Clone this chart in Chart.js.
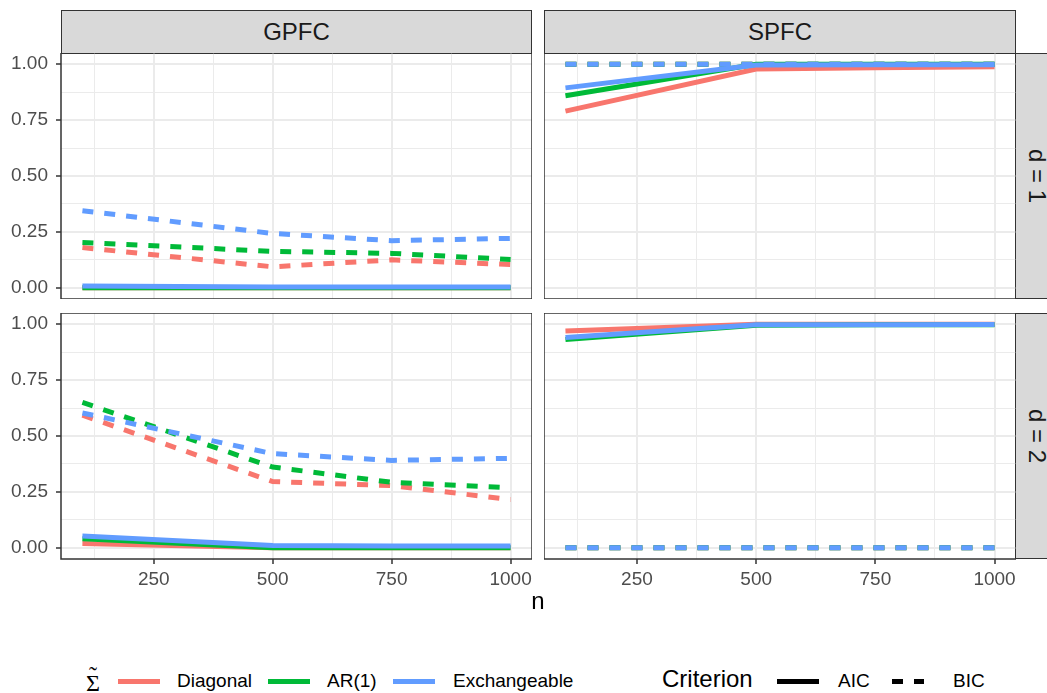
<!DOCTYPE html>
<html>
<head>
<meta charset="utf-8">
<script src="https://cdn.jsdelivr.net/npm/chart.js"></script>
<style>
body { margin:0; width:1047px; height:693px; overflow:hidden; background:#fff; font-family:"Liberation Sans", Arial, sans-serif; position:relative; }
canvas { position:absolute; }
.strip { position:absolute; background:#D9D9D9; border:1.5px solid #333; box-sizing:border-box; color:#1A1A1A; font-size:24px; display:flex; align-items:center; justify-content:center; }
.rot { transform:rotate(90deg); white-space:nowrap; }
.lab { position:absolute; height:30px; line-height:30px; font-size:19px; color:#000; white-space:nowrap; }
.key { position:absolute; top:679px; height:5px; width:42px; }
.serif { font-family:"Liberation Serif", serif; font-size:24px; width:16px; text-align:center; }
</style>
</head>
<body>
<div class="strip" style="left:61px;top:10px;width:471px;height:44px;">GPFC</div>
<div class="strip" style="left:544px;top:10px;width:472px;height:44px;">SPFC</div>
<div class="strip" style="left:1015px;top:53px;width:45px;height:246px;"><span class="rot">d = 1</span></div>
<div class="strip" style="left:1015px;top:313px;width:45px;height:246px;"><span class="rot">d = 2</span></div>

<canvas id="c1" width="532" height="246" style="left:0;top:53px;"></canvas>
<canvas id="c2" width="472" height="246" style="left:544px;top:53px;"></canvas>
<canvas id="c3" width="532" height="290" style="left:0;top:313px;"></canvas>
<canvas id="c4" width="472" height="290" style="left:544px;top:313px;"></canvas>

<div style="position:absolute;left:520px;top:589px;width:36px;text-align:center;font-size:24px;line-height:24px;">n</div>

<div class="lab serif" style="left:85px;top:668px;">Σ</div>
<div class="lab serif" style="left:85px;top:660px;">˜</div>
<div class="key" style="left:118px;background:#F8766D;"></div>
<div class="lab" style="left:177px;top:666px;">Diagonal</div>
<div class="key" style="left:268px;background:#00BA38;"></div>
<div class="lab" style="left:327px;top:666px;">AR(1)</div>
<div class="key" style="left:393px;background:#619CFF;"></div>
<div class="lab" style="left:453px;top:666px;">Exchangeable</div>
<div class="lab" style="left:662px;top:664px;font-size:24px;">Criterion</div>
<div class="key" style="left:777px;background:#000;"></div>
<div class="lab" style="left:838px;top:666px;">AIC</div>
<div class="key" style="left:892px;width:43px;background:repeating-linear-gradient(to right,#000 0 10.5px,transparent 10.5px 21.5px);"></div>
<div class="lab" style="left:953px;top:666px;">BIC</div>

<script>
var nVals = [100, 500, 750, 1000]
var xTicks = [125, 250, 375, 500, 625, 750, 875, 1000]
var yTicks = [0, 0.125, 0.25, 0.375, 0.5, 0.625, 0.75, 0.875, 1]
var covNames = ["Diagonal", "AR(1)", "Exchangeable"]
var covColors = ["#F8766D", "#00BA38", "#619CFF"]

// each: Diagonal, AR(1), Exchangeable
var gpfcD1Aic = [[0, 0, 0, 0], [0, 0, 0, 0], [0.008, 0.004, 0.004, 0.004]]
var gpfcD1Bic = [[0.18, 0.094, 0.125, 0.104], [0.203, 0.163, 0.154, 0.127], [0.345, 0.243, 0.211, 0.221]]
var spfcD1Aic = [[0.79, 0.978, 0.984, 0.988], [0.859, 1, 1, 1], [0.894, 0.996, 0.997, 0.998]]
var spfcD1Bic = [[1, 1, 1, 1], [1, 1, 1, 1], [1, 1, 1, 1]]
var gpfcD2Aic = [[0.019, 0, 0, 0], [0.041, 0, 0, 0], [0.053, 0.01, 0.008, 0.008]]
var gpfcD2Bic = [[0.593, 0.296, 0.278, 0.216], [0.65, 0.361, 0.293, 0.268], [0.603, 0.421, 0.391, 0.4]]
var spfcD2Aic = [[0.969, 1, 1, 1], [0.931, 0.995, 0.997, 0.998], [0.94, 0.997, 0.998, 0.999]]
var spfcD2Bic = [[0, 0, 0, 0], [0, 0, 0, 0], [0, 0, 0, 0]]

function isMajor(v, step){
    return Math.abs(v/step - Math.round(v/step)) < 1e-9
}

var framePlugin = {
    id: "frame",
    afterDraw: function(chart){
        var a = chart.chartArea
        var ctx = chart.ctx
        ctx.save()
        ctx.strokeStyle = "#333333"
        ctx.lineWidth = 1.5
        ctx.strokeRect(a.left, a.top, a.right - a.left, a.bottom - a.top)
        ctx.restore()
    }
}

function makeSets(aic, bic){
    var sets = []
    for(var i = 0; i < covNames.length; i++){
        sets.push({
            label: covNames[i] + " AIC",
            data: nVals.map(function(n, j){ return {x: n, y: aic[i][j]} }),
            borderColor: covColors[i], borderWidth: 5, pointRadius: 0, tension: 0
        })
        sets.push({
            label: covNames[i] + " BIC",
            data: nVals.map(function(n, j){ return {x: n, y: bic[i][j]} }),
            borderColor: covColors[i], borderWidth: 5, borderDash: [11, 11], pointRadius: 0, tension: 0
        })
    }
    sets.forEach(function(s, k){ s.order = sets.length - k })
    return sets
}

function panel(id, aic, bic, showX, showY){
    var yw = showY ? 61 : 0
    var xh = showX ? 44 : 0
    new Chart(id, {
        type: "line",
        data: { datasets: makeSets(aic, bic) },
        options: {
            responsive: false,
            animation: false,
            events: [],
            layout: { padding: 0 },
            plugins: { legend: { display: false }, tooltip: { enabled: false } },
            scales: {
                x: {
                    type: "linear", min: 55, max: 1045,
                    afterBuildTicks: function(s){ s.ticks = xTicks.map(function(v){ return {value: v} }) },
                    afterFit: function(s){ s.height = xh; s.paddingLeft = 0; s.paddingRight = 0 },
                    border: { display: false },
                    grid: {
                        color: "#EBEBEB",
                        lineWidth: function(c){ return isMajor(c.tick.value, 250) ? 2 : 1 },
                        drawTicks: showX, tickLength: 5, tickWidth: 1.5,
                        tickColor: function(c){ return isMajor(c.tick.value, 250) ? "#333333" : "rgba(0,0,0,0)" }
                    },
                    ticks: {
                        display: showX, autoSkip: false, maxRotation: 0, padding: 4,
                        color: "#4D4D4D", font: { family: "Liberation Sans", size: 19 },
                        callback: function(v){ return isMajor(v, 250) ? String(v) : "" }
                    }
                },
                y: {
                    type: "linear", min: -0.05, max: 1.05,
                    afterBuildTicks: function(s){ s.ticks = yTicks.map(function(v){ return {value: v} }) },
                    afterFit: function(s){ s.width = yw; s.paddingTop = 0; s.paddingBottom = 0 },
                    border: { display: false },
                    grid: {
                        color: "#EBEBEB",
                        lineWidth: function(c){ return isMajor(c.tick.value, 0.25) ? 2 : 1 },
                        drawTicks: showY, tickLength: 5, tickWidth: 1.5,
                        tickColor: function(c){ return isMajor(c.tick.value, 0.25) ? "#333333" : "rgba(0,0,0,0)" }
                    },
                    ticks: {
                        display: showY, autoSkip: false, padding: 8,
                        color: "#4D4D4D", font: { family: "Liberation Sans", size: 19 },
                        callback: function(v){ return isMajor(v, 0.25) ? v.toFixed(2) : "" }
                    }
                }
            }
        },
        plugins: [framePlugin]
    })
}

panel("c1", gpfcD1Aic, gpfcD1Bic, false, true)
panel("c2", spfcD1Aic, spfcD1Bic, false, false)
panel("c3", gpfcD2Aic, gpfcD2Bic, true, true)
panel("c4", spfcD2Aic, spfcD2Bic, true, false)
</script>
</body>
</html>
